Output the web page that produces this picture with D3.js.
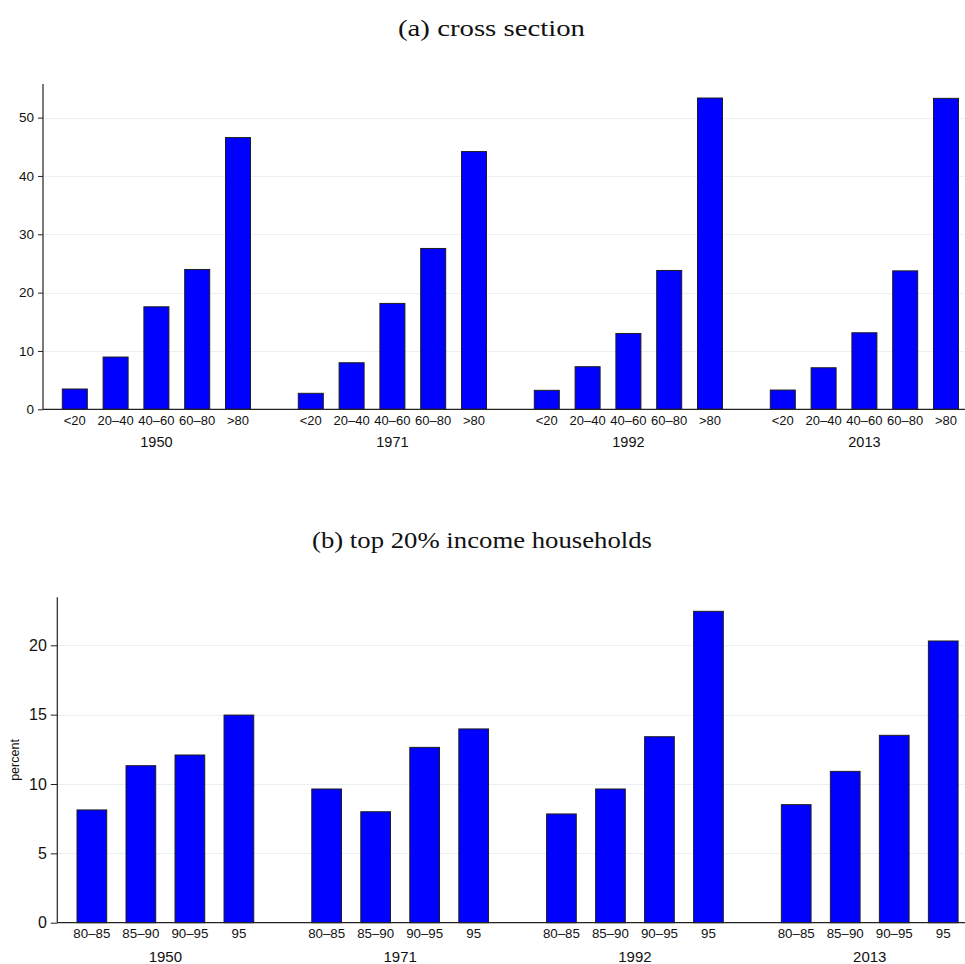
<!DOCTYPE html>
<html>
<head>
<meta charset="utf-8">
<script src="https://cdn.jsdelivr.net/npm/d3@7"></script>
<style>
  html, body { margin: 0; padding: 0; background: #ffffff; }
  svg { display: block; }
  .title { font-family: "Liberation Serif", "Times New Roman", serif; fill: #111; }
  .lbl { font-family: "Liberation Sans", Arial, Helvetica, sans-serif; fill: #111; }
</style>
</head>
<body>
<svg id="chart" width="965" height="964"></svg>
<script>
// Survey years shared by both panels
const years = ["1950", "1971", "1992", "2013"];

// Panel (a): income quintiles
const quintiles = ["<20", "20–40", "40–60", "60–80", ">80"];
const quintileShares = [
  [3.48, 8.96, 17.57, 23.97, 46.58],
  [2.74, 7.98, 18.15, 27.57, 44.18],
  [3.25, 7.30, 13.00, 23.80, 53.36],
  [3.30, 7.12, 13.12, 23.73, 53.30]
];
const quintileTicks = [0, 10, 20, 30, 40, 50];

// Panel (b): brackets within the top 20%
const topBrackets = ["80–85", "85–90", "90–95", "95"];
const topShares = [
  [8.13, 11.32, 12.09, 14.97],
  [9.64, 8.00, 12.64, 13.97],
  [7.84, 9.64, 13.41, 22.45],
  [8.51, 10.91, 13.51, 20.31]
];
const topTicks = [0, 5, 10, 15, 20];

const svg = d3.select("#chart");

function drawPanel(p) {
  const g = svg.append("g");

  // title
  g.append("text")
    .attr("class", "title")
    .attr("x", p.titleX)
    .attr("y", p.titleY)
    .attr("text-anchor", "middle")
    .attr("font-size", p.titleSize)
    .attr("textLength", p.titleLen)
    .attr("lengthAdjust", "spacingAndGlyphs")
    .text(p.title);

  const ymax = d3.max(p.values.flat()) * 1.045;
  const y = d3.scaleLinear().domain([0, ymax]).range([p.bottom, p.top]);

  const x0 = d3.scaleBand().domain(p.groups)
    .range([p.xStart, p.xEnd]).paddingInner(p.groupGap).paddingOuter(0);
  const x1 = d3.scaleBand().domain(p.cats)
    .range([0, x0.bandwidth()]).paddingInner(p.barPad).paddingOuter(p.barPad / 2);

  // gridlines
  g.append("g").selectAll("line")
    .data(p.ticks.filter(t => t > 0))
    .join("line")
    .attr("x1", p.axisX + 1).attr("x2", 965)
    .attr("y1", d => Math.round(y(d)) + 0.5).attr("y2", d => Math.round(y(d)) + 0.5)
    .attr("stroke", "#e8f0f1").attr("stroke-width", 1);

  // bars
  const grp = g.append("g").selectAll("g")
    .data(p.groups.map((yr, i) => ({ yr, vals: p.values[i] })))
    .join("g")
    .attr("transform", d => `translate(${x0(d.yr)},0)`);

  grp.selectAll("rect")
    .data(d => p.cats.map((c, j) => ({ c, v: d.vals[j] })))
    .join("rect")
    .attr("x", d => x1(d.c))
    .attr("width", x1.bandwidth())
    .attr("y", d => y(d.v))
    .attr("height", d => y(0) - y(d.v))
    .attr("fill", "#0000ff")
    .attr("stroke", "#1e1e1e")
    .attr("stroke-width", 1);

  // category labels under each bar
  grp.selectAll("text.cat")
    .data(p.cats)
    .join("text")
    .attr("class", "lbl cat")
    .attr("x", c => x1(c) + x1.bandwidth() / 2)
    .attr("y", p.catY)
    .attr("text-anchor", "middle")
    .attr("font-size", p.catSize)
    .text(c => c);

  // year labels
  grp.append("text")
    .attr("class", "lbl")
    .attr("x", x0.bandwidth() / 2)
    .attr("y", p.yearY)
    .attr("text-anchor", "middle")
    .attr("font-size", p.yearSize)
    .text(d => d.yr);

  // x baseline
  g.append("line")
    .attr("x1", p.axisX).attr("x2", 965)
    .attr("y1", y(0)).attr("y2", y(0))
    .attr("stroke", "#222").attr("stroke-width", 1.2);

  // y axis
  const yAxis = d3.axisLeft(y)
    .tickValues(p.ticks)
    .tickFormat(d3.format("d"))
    .tickSize(p.tickLen)
    .tickPadding(p.tickPad)
    .tickSizeOuter(0);
  const ax = g.append("g")
    .attr("transform", `translate(${p.axisX},0)`)
    .call(yAxis);
  ax.select(".domain")
    .attr("d", `M0,${p.top}V${y(0)}`)
    .attr("stroke", "#222").attr("stroke-width", 1.2);
  ax.selectAll(".tick line").attr("stroke", "#222");
  ax.selectAll(".tick text")
    .attr("class", "lbl")
    .attr("font-size", p.tickSize)
    .attr("fill", "#111");
  ax.attr("font-family", null);

  if (p.yLabel) {
    g.append("text")
      .attr("class", "lbl")
      .attr("transform", `translate(${p.yLabelX},${(p.top + y(0)) / 2}) rotate(-90)`)
      .attr("text-anchor", "middle")
      .attr("font-size", p.yLabelSize)
      .text(p.yLabel);
  }
}

drawPanel({
  title: "(a) cross section",
  titleX: 491.5, titleY: 36, titleSize: 24, titleLen: 187,
  groups: years, cats: quintiles, values: quintileShares, ticks: quintileTicks,
  top: 84, bottom: 409.3,
  axisX: 43, xStart: 54.4, xEnd: 966.4, groupGap: 0.1356, barPad: 0.387,
  tickLen: 5, tickPad: 4, tickSize: 13.5,
  catY: 425, catSize: 13, yearY: 447, yearSize: 14.5
});

drawPanel({
  title: "(b) top 20% income households",
  titleX: 482, titleY: 548, titleSize: 24, titleLen: 340,
  groups: years, cats: topBrackets, values: topShares, ticks: topTicks,
  top: 597.3, bottom: 922.7,
  axisX: 57.3, xStart: 67.35, xEnd: 967.75, groupGap: 0.165, barPad: 0.394,
  tickLen: 6.5, tickPad: 4, tickSize: 16,
  catY: 938, catSize: 13.3, yearY: 961.5, yearSize: 15,
  yLabel: "percent", yLabelX: 19, yLabelSize: 12.5
});
</script>
</body>
</html>
